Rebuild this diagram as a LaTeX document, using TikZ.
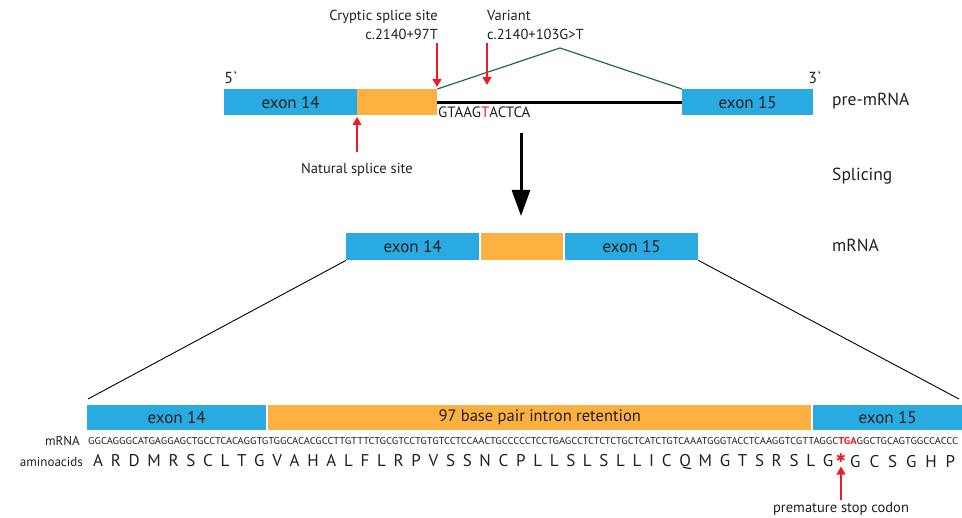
\documentclass[tikz,border=0pt]{standalone}
\usepackage{fontspec}
\usepackage{graphicx}
\setmainfont{PT Sans}
\newfontfamily\symfont{DejaVu Sans}
\usetikzlibrary{arrows.meta}
\definecolor{exonblue}{HTML}{29ABE2}
\definecolor{retorange}{HTML}{FBB040}
\definecolor{splicegreen}{HTML}{1F6E3A}
\definecolor{markred}{HTML}{ED1C24}
\definecolor{textgray}{HTML}{231F20}
\begin{document}
\begin{tikzpicture}[x=1pt,y=-1pt,
  every node/.style={text=textgray, inner sep=0pt},
  boxfont/.style={font=\fontsize{17}{19}\selectfont},
  exonbox/.style={fill=exonblue, draw=none, boxfont, anchor=north west},
  retbox/.style={fill=retorange, draw=none, boxfont, anchor=north west},
  redarrow/.style={draw=markred, line width=1.3pt, -{Triangle[width=9pt,length=8pt]}},
  lbl/.style={font=\fontsize{14.5}{19}\selectfont},
  sidelbl/.style={font=\fontsize{17.5}{19}\selectfont, anchor=west},
  rowlbl/.style={font=\fontsize{13}{15}\selectfont, anchor=east},
  bigarrow/.style={draw=black, line width=3pt, -{Triangle[width=18pt,length=26pt]}},
  zoomline/.style={draw=black, line width=0.9pt}
  ]
\useasboundingbox (0,0) rectangle (962,518);

% ---------- pre-mRNA ----------
\node[exonbox, minimum width=133pt, minimum height=26pt] (ex14a) at (224,89) {exon 14};
\node[retbox, minimum width=80pt, minimum height=26pt] (retA) at (357,89) {};
\node[exonbox, minimum width=131pt, minimum height=26pt] (ex15a) at (682,89) {exon 15};
\draw[black, line width=3pt] (retA.east) -- (ex15a.west);
\node[font=\fontsize{15}{17}\selectfont, anchor=west] (seqA) at (438,112) {GTAAG{\color{markred}T}ACTCA};
\coordinate (apex) at (560,48);
\draw[splicegreen, line width=1.2pt] (retA.north east) -- (apex) -- (ex15a.north west);

\node[font=\fontsize{16}{18}\selectfont, anchor=center] (five) at (231,78) {5\textasciigrave};
\node[font=\fontsize{16}{18}\selectfont, anchor=center] (three) at (815,78) {3\textasciigrave};

\coordinate (crypTop) at (437,43);
\coordinate (crypTip) at (437,87);
\draw[redarrow] (crypTop) -- (crypTip);
\node[lbl, align=right, anchor=south east] (cryp) at (438,40) {Cryptic splice site\\c.2140+97T};

\coordinate (varTop) at (487,43);
\coordinate (varTip) at (487,85);
\draw[redarrow] (varTop) -- (varTip);
\node[lbl, align=left, anchor=south west] (var) at (487,40) {Variant\\c.2140+103G>T};

\coordinate (natBot) at (357,152);
\coordinate (natTip) at (357,117);
\draw[redarrow] (natBot) -- (natTip);
\node[lbl, anchor=center] (nat) at (357,170) {Natural splice site};

\node[sidelbl] (pre) at (832,101) {pre-mRNA};
\node[sidelbl] (spl) at (832,176) {Splicing};
\node[sidelbl] (mrna) at (832,245) {mRNA};

% ---------- splicing arrow ----------
\coordinate (arrTop) at (521,133);
\coordinate (arrTip) at (521,216);
\draw[bigarrow] (arrTop) -- (arrTip);

% ---------- mature mRNA ----------
\node[exonbox, minimum width=133pt, minimum height=27pt] (ex14b) at (346,233) {exon 14};
\node[retbox, minimum width=82pt, minimum height=27pt] (retB) at (481,233) {};
\node[exonbox, minimum width=133pt, minimum height=27pt] (ex15b) at (565,233) {exon 15};

\coordinate (botL) at (88,399);
\coordinate (botR) at (959,399);
\draw[zoomline] (ex14b.south west) -- (botL);
\draw[zoomline] (ex15b.south east) -- (botR);

% ---------- zoomed bar ----------
\node[exonbox, minimum width=179pt, minimum height=25pt] (ex14c) at (87,405) {exon 14};
\node[retbox, minimum width=543pt, minimum height=25pt, font=\fontsize{16.5}{18}\selectfont] (retC) at (268,405) {97 base pair intron retention};
\node[exonbox, minimum width=149pt, minimum height=25pt] (ex15c) at (813,405) {exon 15};

\node[rowlbl] (mlbl) at (80,441) {mRNA};
\node[rowlbl] (albl) at (83,462) {aminoacids};

\node[anchor=west] (seq) at (88,441) {\resizebox{870pt}{\height}{\fontsize{10}{12}\selectfont GGCAGGGCATGAGGAGCTGCCTCACAGGTGTGGCACACGCCTTGTTTCTGCGTCCTGTGTCCTCCAACTGCCCCCTCCTGAGCCTCTCTCTGCTCATCTGTCAAATGGGTACCTCAAGGTCGTTAGGC{\color{markred}\bfseries TGA}GGCTGCAGTGGCCACCC}};

\node[anchor=west, font=\fontsize{17}{19}\selectfont] (aaL) at (93,462) {\makebox[740pt][s]{A R D M R S C L T G V A H A L F L R P V S S N C P L L S L S L L I C Q M G T S R S L G}};
\node[anchor=west, font=\fontsize{17}{19}\selectfont] (aaR) at (850,462) {\makebox[105pt][s]{G C S G H P}};
\node[text=markred, font=\symfont\fontsize{12}{12}\selectfont] (stop) at (841,458) {✱};

\coordinate (stopBot) at (841,500);
\draw[redarrow] (stopBot) -- ([yshift=-4pt]stop.south);
\node[lbl, anchor=center] (stoplbl) at (841,509) {premature stop codon};
\end{tikzpicture}
\end{document}
